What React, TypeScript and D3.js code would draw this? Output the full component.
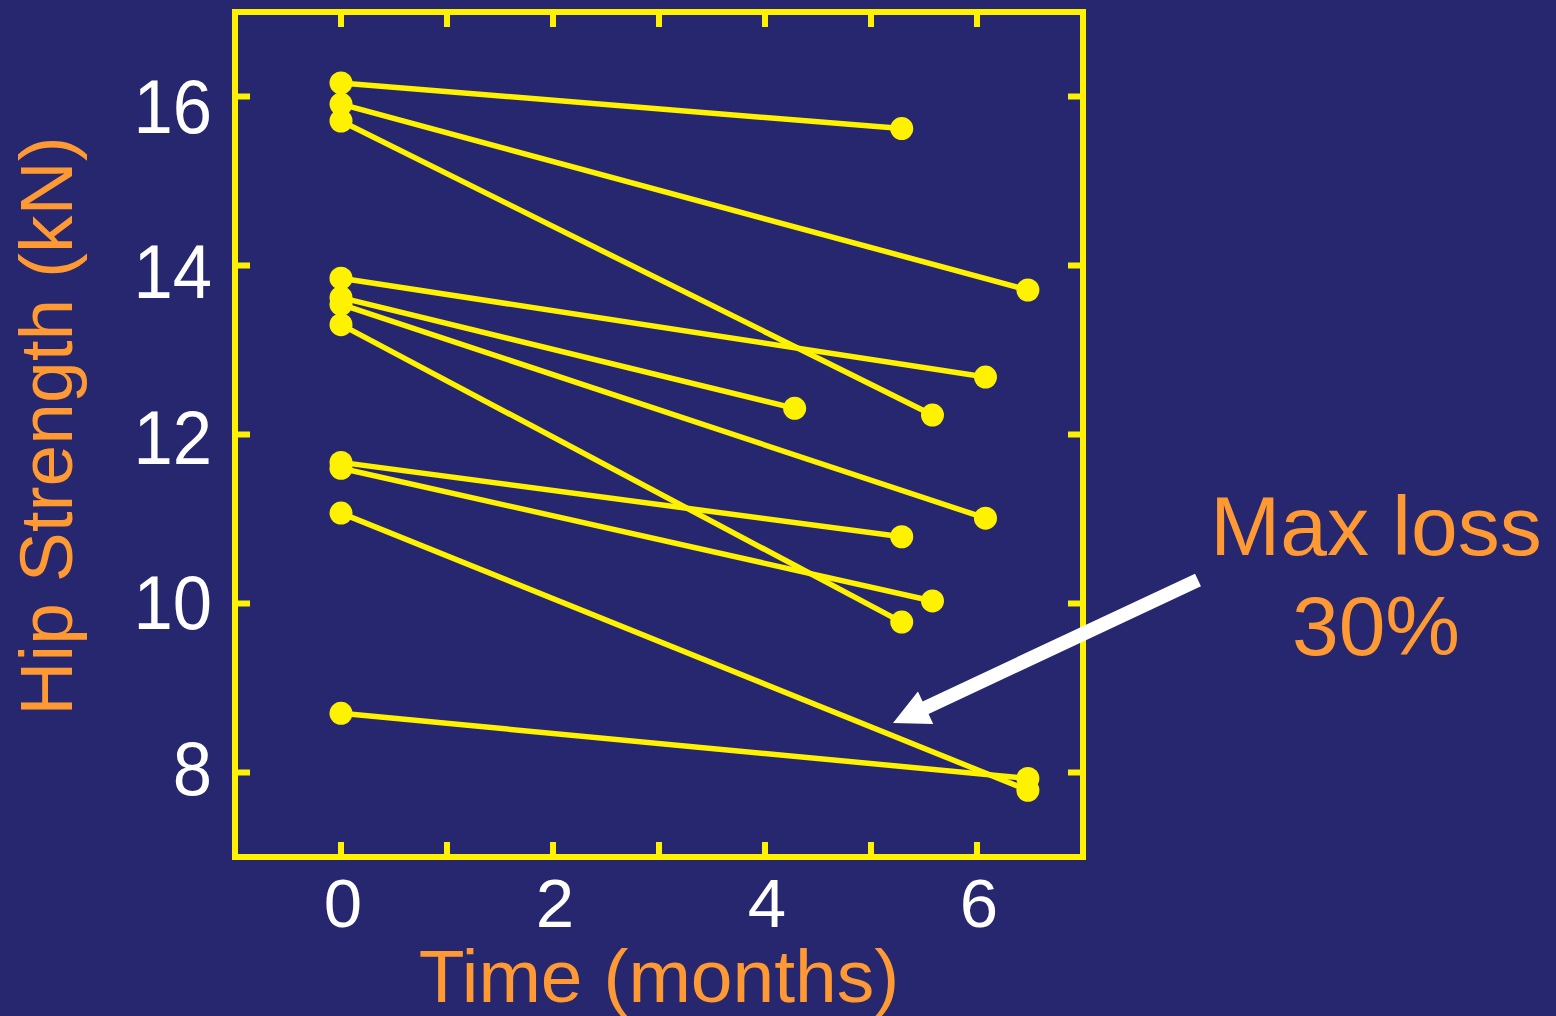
import React from "react";
import * as d3 from "d3";

const W = 1556;
const H = 1016;

const startTimes = [0, 0, 0, 0, 0, 0, 0, 0, 0, 0, 0];
const startValues = [16.16, 15.91, 15.71, 13.85, 13.62, 13.54, 13.30, 11.67, 11.60, 11.07, 8.70];
const endTimes = [5.29, 6.48, 5.58, 6.08, 4.28, 6.08, 5.29, 5.29, 5.58, 6.48, 6.48];
const endValues = [15.62, 13.71, 12.23, 12.68, 12.31, 11.01, 9.78, 10.79, 10.03, 7.79, 7.93];

const xTicks = [0, 1, 2, 3, 4, 5, 6];
const xTickLabels = ["0", "2", "4", "6"];
const yTicks = [8, 10, 12, 14, 16];

const BG = "#27276F";
const YELLOW = "#FFF200";
const ORANGE = "#FF9933";
const FONT = "'Liberation Sans', Arial, Helvetica, sans-serif";

export default function App() {
  const left = 235, right = 1083, top = 12, bottom = 857;
  const x = d3.scaleLinear().domain([-1, 7]).range([left, right]);
  const y = d3.scaleLinear().domain([7, 17]).range([bottom, top]);
  const yLabel = d3.scaleLinear().domain([8, 16]).range([795, 133]);
  const tickLen = 15;

  const segments = startValues.map((v, i) => ({
    x0: startTimes[i], y0: v, x1: endTimes[i], y1: endValues[i],
  }));

  // arrow geometry
  const tail = [1198, 580];
  const tip = [893, 723];
  const dx = tip[0] - tail[0], dy = tip[1] - tail[1];
  const len = Math.hypot(dx, dy);
  const ux = dx / len, uy = dy / len;
  const px = -uy, py = ux;
  const headLen = 36, headHalf = 18, shaftHalf = 7;
  const bx = tip[0] - ux * headLen, by = tip[1] - uy * headLen;
  const arrowPts = [
    [tail[0] + px * shaftHalf, tail[1] + py * shaftHalf],
    [bx + px * shaftHalf, by + py * shaftHalf],
    [bx + px * headHalf, by + py * headHalf],
    [tip[0], tip[1]],
    [bx - px * headHalf, by - py * headHalf],
    [bx - px * shaftHalf, by - py * shaftHalf],
    [tail[0] - px * shaftHalf, tail[1] - py * shaftHalf],
  ];

  return (
    <svg width={W} height={H} style={{ position: "absolute", left: 0, top: 0 }} fontFamily={FONT}>
      <rect x={0} y={0} width={W} height={H} fill={BG} />
      {/* ticks */}
      {xTicks.map((t) => (
        <g key={"xt" + t}>
          <line x1={x(t)} x2={x(t)} y1={bottom} y2={bottom - tickLen} stroke={YELLOW} strokeWidth={6} />
          <line x1={x(t)} x2={x(t)} y1={top} y2={top + tickLen} stroke={YELLOW} strokeWidth={6} />
        </g>
      ))}
      {yTicks.map((t) => (
        <g key={"yt" + t}>
          <line x1={left} x2={left + tickLen} y1={y(t)} y2={y(t)} stroke={YELLOW} strokeWidth={6} />
          <line x1={right} x2={right - tickLen} y1={y(t)} y2={y(t)} stroke={YELLOW} strokeWidth={6} />
        </g>
      ))}
      <rect x={left} y={top} width={right - left} height={bottom - top} fill="none" stroke={YELLOW} strokeWidth={6} />
      {/* tick labels */}
      {xTickLabels.map((s) => (
        <text key={"xl" + s} x={x(+s) + 2} y={927} fill="#FFFFFF" fontSize={69} textAnchor="middle">{s}</text>
      ))}
      {yTicks.map((t) => (
        <text key={"yl" + t} x={212} y={yLabel(t)} fill="#FFFFFF" fontSize={76} textAnchor="end"
          transform={`translate(212,0) scale(0.93,1) translate(-212,0)`}>{t}</text>
      ))}
      {/* data */}
      {segments.map((s, i) => (
        <line key={"s" + i} x1={x(s.x0)} y1={y(s.y0)} x2={x(s.x1)} y2={y(s.y1)} stroke={YELLOW} strokeWidth={5.5} />
      ))}
      {segments.map((s, i) => (
        <g key={"p" + i}>
          <circle cx={x(s.x0)} cy={y(s.y0)} r={11.5} fill={YELLOW} />
          <circle cx={x(s.x1)} cy={y(s.y1)} r={11.5} fill={YELLOW} />
        </g>
      ))}
      {/* axis titles */}
      <text x={(left + right) / 2} y={1002} fill={ORANGE} fontSize={75} textAnchor="middle">Time (months)</text>
      <text transform={`translate(72, 426) rotate(-90)`} fill={ORANGE} fontSize={75} textAnchor="middle">Hip Strength (kN)</text>
      {/* annotation */}
      <text x={1376} y={555} fill={ORANGE} fontSize={84} textAnchor="middle">Max loss</text>
      <text x={1376} y={655} fill={ORANGE} fontSize={84} textAnchor="middle">30%</text>
      <polygon points={arrowPts.map((p) => p.join(",")).join(" ")} fill="#FFFFFF" />
    </svg>
  );
}
